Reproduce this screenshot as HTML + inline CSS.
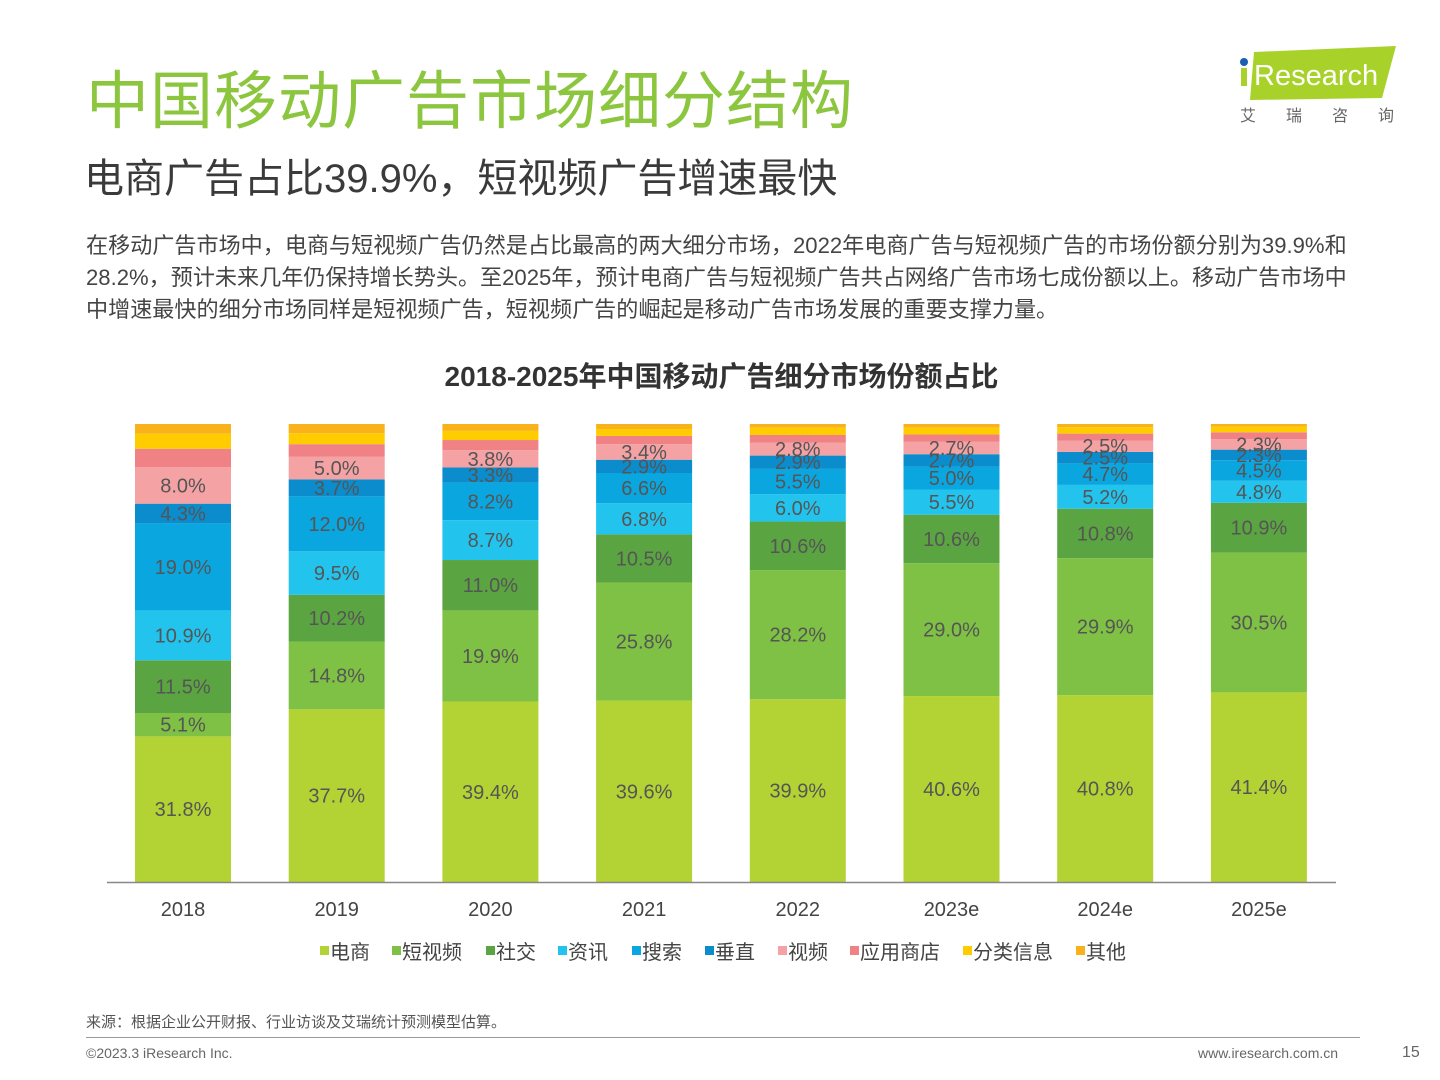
<!DOCTYPE html>
<html><head><meta charset="utf-8">
<style>
body{margin:0;background:#fff;}
#page{position:relative;width:1440px;height:1080px;overflow:hidden;font-family:"Liberation Sans","Noto Sans CJK SC",sans-serif;}
.abs{position:absolute;white-space:nowrap;}
</style></head>
<body>
<div id="page">
<div class="abs" style="left:86px;top:51px;font-size:63px;color:#8cc63f;letter-spacing:1px;">中国移动广告市场细分结构</div>
<div class="abs" style="left:84px;top:146px;font-size:40px;color:#3a3a3a;">电商广告占比39.9%，短视频广告增速最快</div>
<div class="abs" style="left:86px;top:230px;font-size:22.1px;line-height:32px;color:#444;">在移动广告市场中，电商与短视频广告仍然是占比最高的两大细分市场，2022年电商广告与短视频广告的市场份额分别为39.9%和<br>28.2%，预计未来几年仍保持增长势头。至2025年，预计电商广告与短视频广告共占网络广告市场七成份额以上。移动广告市场中<br>中增速最快的细分市场同样是短视频广告，短视频广告的崛起是移动广告市场发展的重要支撑力量。</div>
<div class="abs" style="left:1238px;top:46px;width:160px;height:80px;">
<svg width="160" height="80"><polygon points="16,6 158,0 144,52 12,54" fill="#a8d22a"/><circle cx="6" cy="16" r="4" fill="#1a5fb4"/><rect x="3" y="22" width="6" height="18" fill="#a8d22a"/>
<text x="16" y="39" font-size="29" fill="#fff" font-family="Liberation Sans,sans-serif">Research</text>
<text x="2" y="75" font-size="16" fill="#666" font-family="Noto Sans CJK SC,sans-serif" letter-spacing="30">艾瑞咨询</text></svg></div>
<div class="abs" style="left:0;width:1443px;text-align:center;top:355px;font-size:28px;font-weight:bold;color:#333;">2018-2025年中国移动广告细分市场份额占比</div>
<svg id="chart" class="abs" style="left:0;top:0" width="1440" height="1080"></svg>
<div class="abs" style="left:86px;top:1011px;font-size:15px;color:#555;">来源：根据企业公开财报、行业访谈及艾瑞统计预测模型估算。</div>
<div class="abs" style="left:86px;top:1037px;width:1274px;height:1px;background:#999;"></div>
<div class="abs" style="left:86px;top:1045px;font-size:14px;color:#666;">©2023.3 iResearch Inc.</div>
<div class="abs" style="left:1198px;top:1045px;font-size:14px;color:#666;">www.iresearch.com.cn</div>
<div class="abs" style="left:1402px;top:1044px;font-size:16px;color:#666;">15</div>
</div>
<script>
const years=["2018","2019","2020","2021","2022","2023e","2024e","2025e"];
const seriesNames=["电商","短视频","社交","资讯","搜索","垂直","视频","应用商店","分类信息","其他"];
const ecommerce=[31.8,37.7,39.4,39.6,39.9,40.6,40.8,41.4];
const shortVideo=[5.1,14.8,19.9,25.8,28.2,29.0,29.9,30.5];
const social=[11.5,10.2,11.0,10.5,10.6,10.6,10.8,10.9];
const news=[10.9,9.5,8.7,6.8,6.0,5.5,5.2,4.8];
const search=[19.0,12.0,8.2,6.6,5.5,5.0,4.7,4.5];
const vertical=[4.3,3.7,3.3,2.9,2.9,2.7,2.5,2.3];
const video=[8.0,5.0,3.8,3.4,2.8,2.7,2.5,2.3];
const appStore=[4.0,2.7,2.2,1.8,1.7,1.6,1.5,1.5];
const classified=[3.3,2.4,2.0,1.5,1.6,1.5,1.4,1.2];
const others=[2.1,2.0,1.5,1.1,0.8,0.8,0.7,0.6];
const allSeries=[ecommerce,shortVideo,social,news,search,vertical,video,appStore,classified,others];
const showLabel=[true,true,true,true,true,true,true,false,false,false];
const colors=["#b3d334","#7fc144","#5ba442","#22c4ee","#0aa6df","#0b8ccc","#f4a2a4","#f08285","#ffcc00","#f9b21c"];
const NS="http://www.w3.org/2000/svg";
const svg=document.getElementById('chart');
const baseY=882, plotH=458, x0=183, step=153.7, barW=96;
function xC(i){return x0+i*step;}
function yS(v){return v/100*plotH;}
years.forEach((yr,i)=>{
  let acc=0;
  allSeries.forEach((s,k)=>{
    const v=s[i];
    const r=document.createElementNS(NS,'rect');
    r.setAttribute('x',xC(i)-barW/2);
    r.setAttribute('y',baseY-yS(acc+v));
    r.setAttribute('width',barW);
    r.setAttribute('height',yS(v));
    r.setAttribute('fill',colors[k]);
    
    
    svg.appendChild(r);
    acc+=v;
  });
  acc=0;
  allSeries.forEach((s,k)=>{
    const v=s[i];
    if(showLabel[k]){
      const t=document.createElementNS(NS,'text');
      t.setAttribute('x',xC(i));
      t.setAttribute('y',baseY-yS(acc+v/2)+7);
      t.setAttribute('text-anchor','middle');
      t.setAttribute('font-size','20');
      t.setAttribute('fill','#555');
      t.setAttribute('font-family','Liberation Sans,sans-serif');
      t.textContent=v.toFixed(1)+'%';
      
      
      svg.appendChild(t);
    }
    acc+=v;
  });
  const yt=document.createElementNS(NS,'text');
  yt.setAttribute('x',xC(i));yt.setAttribute('y',916);
  yt.setAttribute('text-anchor','middle');yt.setAttribute('font-size','20');yt.setAttribute('fill','#444');
  yt.setAttribute('font-family','Liberation Sans,sans-serif');
  yt.textContent=yr;
  
  
  svg.appendChild(yt);
});
const ax=document.createElementNS(NS,'line');
ax.setAttribute('x1',107);ax.setAttribute('x2',1336);ax.setAttribute('y1',baseY+0.5);ax.setAttribute('y2',baseY+0.5);
ax.setAttribute('stroke','#888');ax.setAttribute('stroke-width','1.5');


svg.appendChild(ax);
const legendX=[320,392,486,558,632,705,778,850,963,1076];
seriesNames.forEach((n,k)=>{
  const g=document.createElementNS(NS,'g');
  
  
  const r=document.createElementNS(NS,'rect');
  r.setAttribute('x',legendX[k]);r.setAttribute('y',946);r.setAttribute('width',9);r.setAttribute('height',9);r.setAttribute('fill',colors[k]);
  const t=document.createElementNS(NS,'text');
  t.setAttribute('x',legendX[k]+10);t.setAttribute('y',959);t.setAttribute('font-size','20');t.setAttribute('fill','#444');
  t.setAttribute('font-family','Noto Sans CJK SC,sans-serif');
  t.textContent=n;
  g.appendChild(r);g.appendChild(t);svg.appendChild(g);
});
</script>
</body></html>
